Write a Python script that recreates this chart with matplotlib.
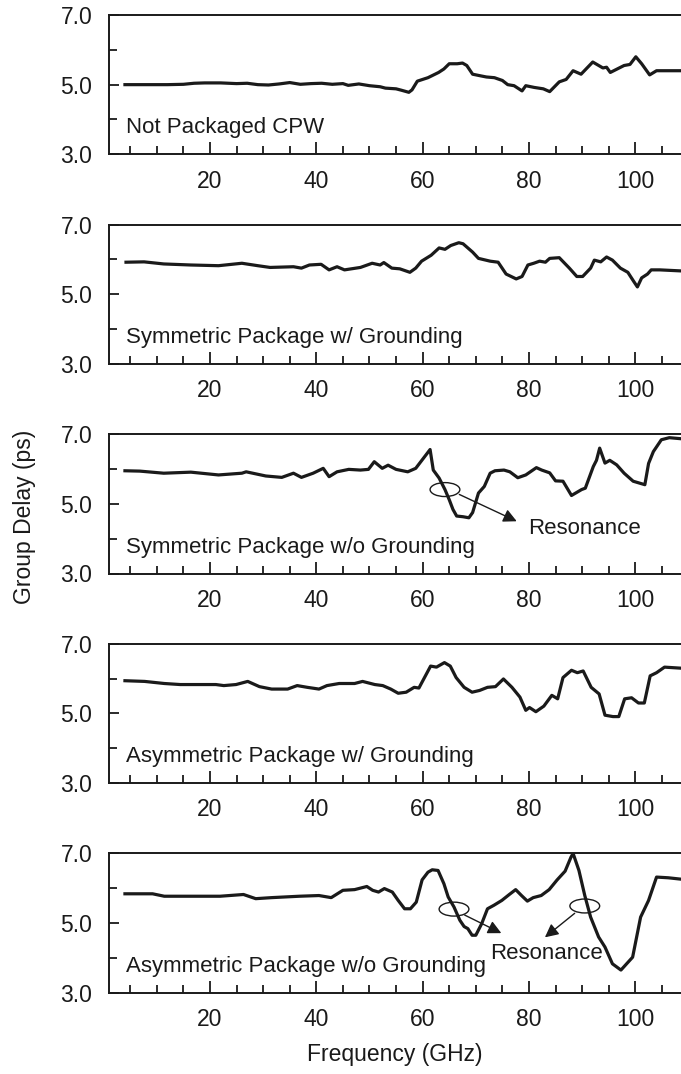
import matplotlib
matplotlib.use("Agg")
import matplotlib.pyplot as plt
from matplotlib.patches import Ellipse
from matplotlib.ticker import MultipleLocator, FixedLocator

plt.rcParams['font.family'] = ['Liberation Sans', 'DejaVu Sans']

# Group delay traces (frequency in GHz, delay in ps)
freq_cpw = [4, 8, 12, 15, 17, 19, 22, 25, 27, 29, 31, 33, 35, 37, 39, 41, 43, 45, 46, 48,
            50, 52, 53, 55, 56, 57.4, 58, 59, 61, 63, 64, 65, 66.5, 67.5, 68.3, 69.4, 71, 72,
            73.5, 75, 76, 77.2, 78.7, 79.4, 81, 82.7, 83.9, 85.7, 87, 88.3, 89.8, 92, 93.9,
            94.6, 95.3, 97.9, 99, 100.1, 101.2, 102.7, 104, 108.6]
delay_cpw = [5.00, 5.00, 5.00, 5.01, 5.04, 5.05, 5.05, 5.03, 5.04, 5.00, 4.99, 5.02, 5.06,
             5.01, 5.03, 5.04, 5.01, 5.03, 4.98, 5.02, 4.97, 4.94, 4.90, 4.88, 4.84, 4.78,
             4.85, 5.10, 5.20, 5.35, 5.45, 5.60, 5.60, 5.62, 5.55, 5.30, 5.25, 5.22, 5.20,
             5.12, 5.00, 4.97, 4.82, 4.97, 4.92, 4.88, 4.80, 5.08, 5.15, 5.40, 5.30, 5.65,
             5.48, 5.50, 5.35, 5.55, 5.58, 5.80, 5.60, 5.28, 5.40, 5.40]

freq_sym_gnd = [4.2, 7.6, 11.3, 16.4, 21.6, 26, 29, 31.3, 35.7, 37.2, 38.7, 40.9, 42.4, 43.9,
                45.3, 48.3, 50.5, 52, 52.7, 54.2, 55.7, 57.6, 58.7, 59.8, 61.6, 63.1, 64.2,
                65.3, 66.8, 67.6, 69.4, 70.5, 72.7, 74.2, 75.7, 77.6, 78.7, 79.8, 80.9, 82,
                83.1, 83.9, 85.7, 87.6, 89, 90.1, 91.6, 92.3, 93.5, 94.6, 95.7, 97.2, 98.6,
                99.7, 100.4, 101.2, 102.3, 103, 104.6, 108.6]
delay_sym_gnd = [5.92, 5.93, 5.87, 5.84, 5.82, 5.89, 5.82, 5.77, 5.79, 5.75, 5.84, 5.86, 5.70,
                 5.79, 5.70, 5.77, 5.89, 5.84, 5.91, 5.75, 5.73, 5.63, 5.75, 5.95, 6.12, 6.33,
                 6.29, 6.40, 6.48, 6.45, 6.21, 6.03, 5.95, 5.92, 5.58, 5.44, 5.51, 5.84, 5.89,
                 5.95, 5.92, 6.03, 6.05, 5.75, 5.51, 5.51, 5.75, 5.98, 5.93, 6.07, 5.98, 5.75,
                 5.63, 5.37, 5.21, 5.47, 5.58, 5.70, 5.70, 5.67]

freq_sym_open = [4, 6.8, 11.3, 16.4, 21.6, 26, 26.8, 30.5, 33.5, 35.7, 37.2, 39.4, 41.3, 42.4,
                 43.9, 46.1, 48.3, 49.8, 50.9, 52.4, 53.5, 55, 57.2, 58.7, 60.1, 61.4, 62,
                 63.1, 64.2, 65, 65.7, 66.4, 67.6, 68.7, 69.4, 70.5, 71.6, 72.7, 73.6, 75.3,
                 76.4, 77.9, 79.4, 81.4, 82.4, 83.9, 85, 86.4, 88, 89.9, 90.6, 92.1, 92.7,
                 93.3, 94.3, 95.2, 96.5, 97.9, 99.6, 101.8, 102.5, 103.4, 104.9, 106.4, 108.6]
delay_sym_open = [5.95, 5.94, 5.88, 5.91, 5.83, 5.88, 5.92, 5.80, 5.76, 5.88, 5.76, 5.88, 6.02,
                  5.78, 5.92, 5.99, 5.97, 5.99, 6.21, 6.02, 6.11, 5.99, 5.92, 6.02, 6.30, 6.56,
                  5.97, 5.74, 5.41, 5.12, 4.84, 4.65, 4.63, 4.60, 4.75, 5.31, 5.50, 5.88, 5.95,
                  5.97, 5.92, 5.75, 5.83, 6.04, 5.97, 5.89, 5.66, 5.65, 5.24, 5.41, 5.45, 6.07,
                  6.25, 6.60, 6.17, 6.25, 6.12, 5.88, 5.65, 5.55, 6.16, 6.50, 6.84, 6.90, 6.87]

freq_asym_gnd = [4, 7.7, 11.4, 14.4, 18.1, 21.1, 22.6, 24.9, 27.1, 29.3, 31.6, 34.6, 36.4,
                 38.3, 40.5, 42, 44.3, 47.2, 48.7, 51, 52.5, 54, 55.4, 56.9, 58.4, 59.3, 61.5,
                 62.6, 64.1, 65.2, 66.3, 67.8, 69.3, 70.7, 72.2, 73.7, 75.2, 76.8, 78.3, 79.4,
                 80.1, 81.3, 82.8, 84.3, 85.4, 86.4, 88, 89.1, 90.2, 91.7, 93.2, 94.3, 95.8,
                 96.9, 98, 99.3, 100.6, 101.7, 102.8, 104, 105.5, 108.6]
delay_asym_gnd = [5.94, 5.92, 5.86, 5.83, 5.83, 5.83, 5.80, 5.83, 5.92, 5.77, 5.70, 5.70, 5.80,
                  5.75, 5.70, 5.80, 5.86, 5.86, 5.92, 5.83, 5.80, 5.70, 5.58, 5.61, 5.75, 5.73,
                  6.36, 6.33, 6.46, 6.36, 6.03, 5.75, 5.61, 5.66, 5.75, 5.77, 5.99, 5.75, 5.47,
                  5.09, 5.17, 5.05, 5.21, 5.52, 5.42, 6.03, 6.24, 6.17, 6.22, 5.75, 5.56, 4.95,
                  4.91, 4.91, 5.42, 5.45, 5.30, 5.30, 6.08, 6.17, 6.33, 6.30]

freq_asym_open = [4, 9.2, 11.4, 15.9, 21.9, 26.3, 28.6, 31.6, 36.8, 40.5, 42.8, 45, 47.2, 49.5,
                  50.6, 51.7, 52.8, 54.3, 55.4, 56.6, 57.7, 58.8, 59.9, 61, 61.8, 62.9, 64,
                  64.8, 65.9, 67, 67.8, 68.5, 69.3, 70, 71.1, 72.2, 73.4, 74.9, 76.3, 77.5,
                  78.6, 79.7, 80.8, 82.3, 83.8, 85.3, 86.8, 87.9, 88.3, 89.4, 90.5, 91.6, 93.1,
                  94.3, 95.7, 97.3, 99.5, 101, 102.5, 104, 106.2, 108.6]
delay_asym_open = [5.84, 5.84, 5.77, 5.77, 5.77, 5.82, 5.70, 5.73, 5.77, 5.79, 5.73, 5.94, 5.96,
                   6.05, 5.94, 5.89, 5.99, 5.89, 5.65, 5.41, 5.41, 5.60, 6.24, 6.46, 6.53, 6.51,
                   6.13, 5.75, 5.46, 5.08, 4.90, 4.84, 4.65, 4.65, 4.98, 5.41, 5.51, 5.65, 5.82,
                   5.96, 5.79, 5.63, 5.73, 5.79, 5.96, 6.24, 6.49, 6.89, 7.00, 6.51, 5.79, 5.17,
                   4.60, 4.31, 3.83, 3.65, 4.02, 5.17, 5.65, 6.32, 6.30, 6.26]

panel_labels = ["Not Packaged CPW",
                "Symmetric Package w/ Grounding",
                "Symmetric Package w/o Grounding",
                "Asymmetric Package w/ Grounding",
                "Asymmetric Package w/o Grounding"]
series = [(freq_cpw, delay_cpw), (freq_sym_gnd, delay_sym_gnd), (freq_sym_open, delay_sym_open),
          (freq_asym_gnd, delay_asym_gnd), (freq_asym_open, delay_asym_open)]

y_ticks = [3.0, 5.0, 7.0]
y_tick_labels = ["3.0", "5.0", "7.0"]
x_ticks = [20, 40, 60, 80, 100]
x_tick_labels = ["20", "40", "60", "80", "100"]

INK = '#1a1a1a'
W, H = 681, 1074
fig = plt.figure(figsize=(W / 100, H / 100), dpi=100)

left_px, top0_px, pitch_px, height_px = 109, 15, 209.6, 139.3
axes = []
for i, ((fx, dy), label) in enumerate(zip(series, panel_labels)):
    top = top0_px + i * pitch_px
    ax = fig.add_axes([left_px / W, 1 - (top + height_px) / H, (W - left_px) / W, height_px / H])
    axes.append(ax)
    ax.plot(fx, dy, color=INK, lw=2.3, solid_joinstyle='round')
    ax.set_xlim(1, 108.6)
    ax.set_ylim(3.0, 7.0)
    ax.spines['right'].set_visible(False)
    for s in ('left', 'bottom', 'top'):
        ax.spines[s].set_linewidth(1.4)
        ax.spines[s].set_color(INK)
    ax.xaxis.set_major_locator(FixedLocator(x_ticks))
    ax.set_xticklabels(x_tick_labels)
    ax.xaxis.set_minor_locator(MultipleLocator(5))
    ax.yaxis.set_major_locator(FixedLocator(y_ticks))
    ax.set_yticklabels(y_tick_labels)
    ax.yaxis.set_minor_locator(MultipleLocator(1))
    ax.tick_params(axis='x', which='major', direction='in', length=9, width=1.3,
                   labelsize=16.5, pad=11, colors=INK, top=False)
    ax.tick_params(axis='x', which='minor', direction='in', length=6, width=1.3,
                   colors=INK, top=False)
    ax.tick_params(axis='y', which='major', direction='in', length=7, width=1.3,
                   labelsize=16.5, pad=12, colors=INK, right=False)
    ax.tick_params(axis='y', which='minor', direction='in', length=5.5, width=1.3,
                   colors=INK, right=False)
    ax.text(4.2, 3.6, label, fontsize=16, color=INK, va='baseline', ha='left')

# Resonance callouts: ellipse around the dip plus an arrow to the label
def callout(ax, cx, cy, start, tip):
    ax.add_patch(Ellipse((cx, cy), 5.6, 0.4, fill=False, lw=1.0, color=INK))
    ax.annotate('', xy=tip, xytext=start,
                arrowprops=dict(arrowstyle='-|>', color=INK, lw=1.0, mutation_scale=20,
                                shrinkA=0, shrinkB=0))

callout(axes[2], 64.2, 5.41, (66.9, 5.27), (77.7, 4.50))
axes[2].text(79.8, 4.12, "Resonance", fontsize=16, color=INK, va='baseline', ha='left')

callout(axes[4], 65.9, 5.40, (67.9, 5.23), (74.8, 4.71))
callout(axes[4], 90.5, 5.49, (88.6, 5.28), (83.0, 4.59))
axes[4].text(72.7, 3.96, "Resonance", fontsize=16, color=INK, va='baseline', ha='left')

fig.text(395 / W, 1 - 1054 / H, "Frequency (GHz)", fontsize=16.5, color=INK,
         ha='center', va='center')
fig.text(25 / W, 1 - 517 / H, "Group Delay (ps)", fontsize=16.5, color=INK,
         ha='center', va='center', rotation=90)

fig.savefig("out.png", dpi=100)
